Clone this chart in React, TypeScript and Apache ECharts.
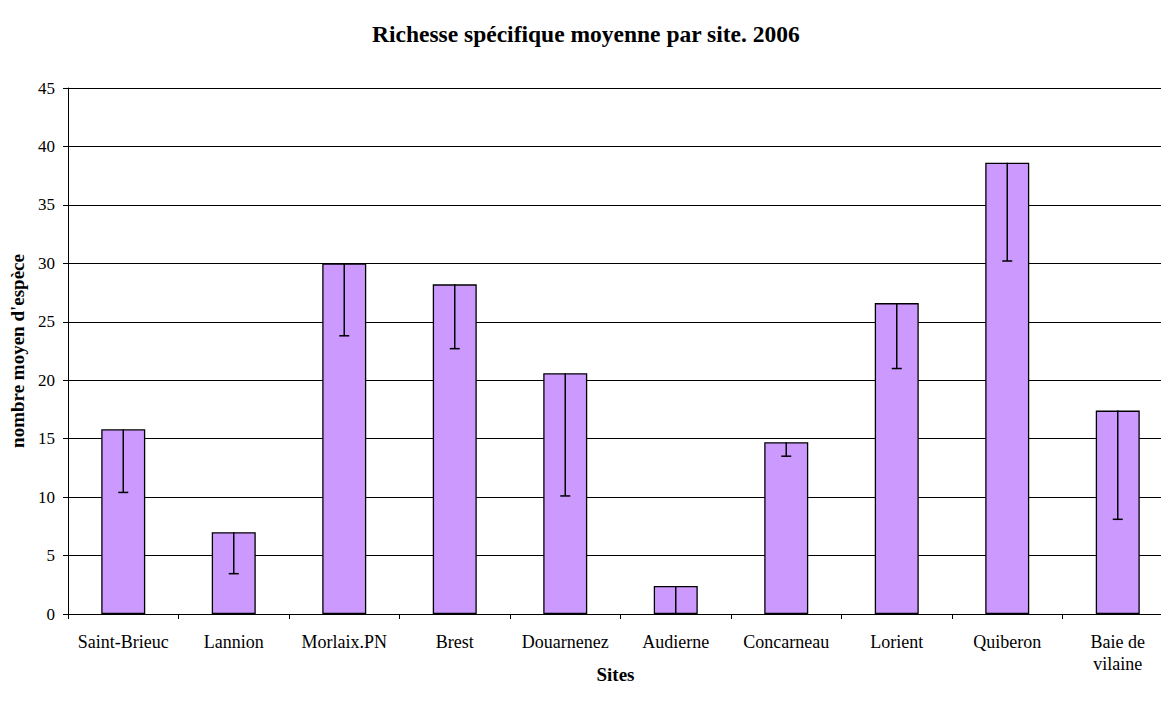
import React, { useEffect, useRef } from "react";
import * as echarts from "echarts";

const sites = [
  "Saint-Brieuc",
  "Lannion",
  "Morlaix.PN",
  "Brest",
  "Douarnenez",
  "Audierne",
  "Concarneau",
  "Lorient",
  "Quiberon",
  "Baie de\nvilaine",
];
const meanValues = [15.8, 7.0, 30.0, 28.2, 20.6, 2.4, 14.7, 26.6, 38.6, 17.4];
const lowerValues = [10.4, 3.45, 23.8, 22.7, 10.1, 0, 13.5, 21.0, 30.2, 8.1];

const FONT = "'Liberation Serif', 'Times New Roman', serif";

export default function App() {
  const ref = useRef<HTMLDivElement>(null);
  useEffect(() => {
    if (!ref.current) return;
    const chart = echarts.init(ref.current, null, { renderer: "svg" });
    const errData = sites.map((_, i) => [i, meanValues[i], lowerValues[i]]);
    chart.setOption({
      animation: false,
      backgroundColor: "#ffffff",
      title: {
        text: "Richesse spécifique moyenne par site. 2006",
        left: 367,
        top: 17,
        textStyle: { fontFamily: FONT, fontSize: 23.5, fontWeight: "bold", color: "#000" },
      },
      grid: { left: 68, right: 0, top: 88, bottom: 93, containLabel: false },
      xAxis: {
        type: "category",
        data: sites,
        name: "Sites",
        nameLocation: "middle",
        nameGap: 51,
        nameMoveOverlap: false,
        nameTextStyle: { fontFamily: FONT, fontSize: 19, fontWeight: "bold", color: "#000", padding: [0, 10, 0, 0] },
        axisLine: { lineStyle: { color: "#000", width: 1 } },
        axisTick: { show: true, length: 5, alignWithLabel: false, lineStyle: { color: "#000" } },
        axisLabel: { fontFamily: FONT, fontSize: 18, color: "#000", margin: 17, interval: 0, lineHeight: 22 },
      },
      yAxis: {
        type: "value",
        min: 0,
        max: 45,
        interval: 5,
        name: "nombre moyen d'espèce",
        nameLocation: "middle",
        nameGap: 39,
        nameTextStyle: { fontFamily: FONT, fontSize: 19, fontWeight: "bold", color: "#000" },
        axisLine: { show: true, lineStyle: { color: "#000", width: 1 } },
        axisTick: { show: true, length: 5, lineStyle: { color: "#000" } },
        axisLabel: { fontFamily: FONT, fontSize: 17, color: "#000", margin: 13 },
        splitLine: { show: true, lineStyle: { color: "#000", width: 1 } },
      },
      series: [
        {
          type: "bar",
          data: meanValues,
          barWidth: 44,
          itemStyle: { color: "#CC99FF", borderColor: "#000", borderWidth: 1.3 },
          z: 2,
        },
        {
          type: "custom",
          data: errData,
          z: 5,
          renderItem: (params: any, api: any) => {
            const idx = api.value(0);
            const top = api.coord([idx, api.value(1)]);
            const bot = api.coord([idx, api.value(2)]);
            const capHalf = 5;
            return {
              type: "group",
              children: [
                {
                  type: "line",
                  shape: { x1: top[0], y1: top[1], x2: bot[0], y2: bot[1] },
                  style: { stroke: "#000", lineWidth: 1.5 },
                },
                {
                  type: "line",
                  shape: { x1: bot[0] - capHalf, y1: bot[1], x2: bot[0] + capHalf, y2: bot[1] },
                  style: { stroke: "#000", lineWidth: 1.5 },
                },
              ],
            };
          },
        },
      ],
    });
    return () => chart.dispose();
  }, []);
  return (
    <div
      ref={ref}
      style={{ position: "fixed", left: 0, top: 0, width: 1173, height: 707 }}
    />
  );
}
